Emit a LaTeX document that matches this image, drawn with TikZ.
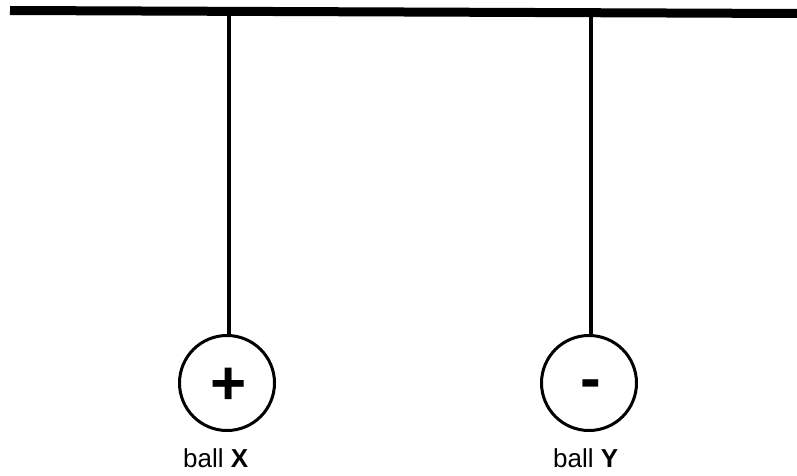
\documentclass[tikz,border=0pt]{standalone}
\usepackage{fontspec}
\setmainfont{Liberation Sans}
\tikzset{
  ball/.style={draw, circle, line width=3pt, minimum size=95pt, inner sep=0pt},
  sign/.style={anchor=base, inner sep=0pt, font=\fontsize{62}{62}\selectfont\bfseries},
  thread/.style={line width=3.5pt},
  bar/.style={line width=9pt},
  lbl/.style={anchor=base west, inner sep=0pt, font=\fontsize{26}{26}\selectfont}
}
\begin{document}
\begin{tikzpicture}[x=1pt,y=-1pt]
\useasboundingbox (0,0) rectangle (797,476);
\coordinate (bl) at (10,10.5);
\coordinate (br) at (797,13.5);
\draw[bar] (bl) -- (br);
\node[ball] (X) at (227,383) {};
\node[ball] (Y) at (589,383) {};
\node[sign] (px) at (229,404) {+};
\node[sign] (my) at (591,399) {-};
\coordinate (sx) at (229,11);
\coordinate (sy) at (591,12);
\draw[thread] (sx) -- (sx |- X.north);
\draw[thread] (sy) -- (sy |- Y.north);
\node[lbl] (lx) at (183,467) {ball \textbf{X}};
\node[lbl] (ly) at (553,467) {ball \textbf{Y}};
\end{tikzpicture}
\end{document}
